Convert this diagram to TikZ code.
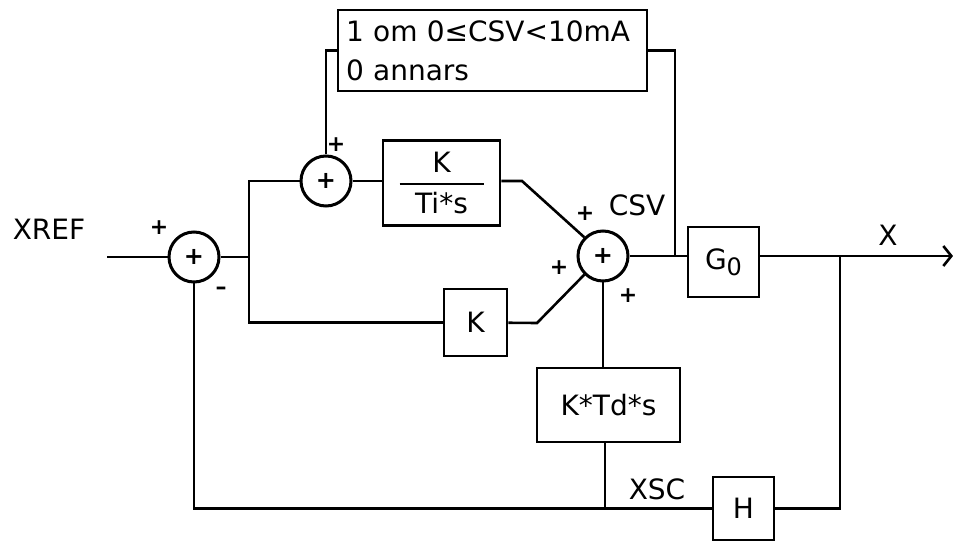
\documentclass[tikz,border=0pt]{standalone}
\usepackage{fontspec}
\setmainfont{DejaVu Sans}
\usetikzlibrary{arrows.meta}

\begin{document}
\begin{tikzpicture}[
  x=0.5pt, y=-0.5pt,
  line width=1.3pt,
  every node/.style={font=\fontsize{14}{19.5}\selectfont},
  block/.style={draw, line width=1.3pt, inner sep=0pt},
  sum/.style={draw, circle, line width=1.5pt, minimum size=25pt, inner sep=0pt, font=\fontsize{12}{12}\selectfont\bfseries},
  sign/.style={inner sep=0pt, font=\fontsize{11}{12}\selectfont\bfseries},
  arrow/.style={-{Straight Barb[length=4pt, width=10pt]}}
]
\useasboundingbox (0,0) rectangle (953,545);

% summation points
\node[sum] (s1) at (194,257) {+};
\node[sum] (s2) at (326,181) {+};
\node[sum] (s3) at (603,256) {+};

% blocks
\node[block, minimum width=154.5pt, minimum height=40.5pt, inner xsep=4pt, text width=146.5pt, align=left] (lim) at (492.5,50.5) {1 om 0≤CSV<10mA\\0 annars};
\node[block, minimum width=58.5pt, minimum height=42.5pt, align=center] (ti) at (441.5,183) {K\\[-13.5pt]\rule{42pt}{1pt}\\[-5pt]Ti*s};
\node[block, minimum width=31.5pt, minimum height=33.5pt] (k) at (475.5,322.5) {K};
\node[block, minimum width=71.5pt, minimum height=37pt] (td) at (608.5,405) {K*Td*s};
\node[block, minimum width=35.5pt, minimum height=35pt] (g) at (723.5,262) {G\raisebox{-3pt}{\fontsize{12}{12}\selectfont 0}};
\node[block, minimum width=30.5pt, minimum height=31.5pt] (h) at (743.5,508.5) {H};

% texts
\node (xref) at (49,229) {XREF};
\node (csv) at (637,205) {CSV};
\node (xsig) at (888,235) {X};
\node (xsc) at (657,489) {XSC};
\node[sign] (p1) at (159,228) {+};
\node[sign] (m1) at (221,291) {–};
\node[sign] (p2) at (336,145) {+};
\node[sign] (p3a) at (585,214) {+};
\node[sign] (p3b) at (559,268) {+};
\node[sign] (p3c) at (628,296) {+};

% junctions and bends
\coordinate (in) at (107,257);
\coordinate (j1) at (249,257);
\coordinate (j2) at (675,256);
\coordinate (j3) at (840,256);
\coordinate (j4) at (605,508.5);
\coordinate (out) at (953,256);
\coordinate (tibend) at (522,181);
\coordinate (kbend) at (537,323);

\draw (in) -- (s1);
\draw (s1) -- (j1);
\draw (j1) |- (s2);
\draw (j1) |- (k);
\draw (s2) -- (s2 -| ti.west);
\draw (ti.east |- s2) -- (tibend) -- (s3.135);
\draw (k) -- (kbend) -- (s3.225);
\draw (s2) |- (lim.west);
\draw (lim.east) -| (j2);
\draw (s3) -- (s3 -| g.west);
\draw[arrow] (g.east |- s3) -- (out);
\draw (j3) |- (h);
\draw (h) -| (s1);
\draw (s3) -- (s3 |- td.north);
\draw (j4 |- td.south) -- (j4);
\end{tikzpicture}
\end{document}
